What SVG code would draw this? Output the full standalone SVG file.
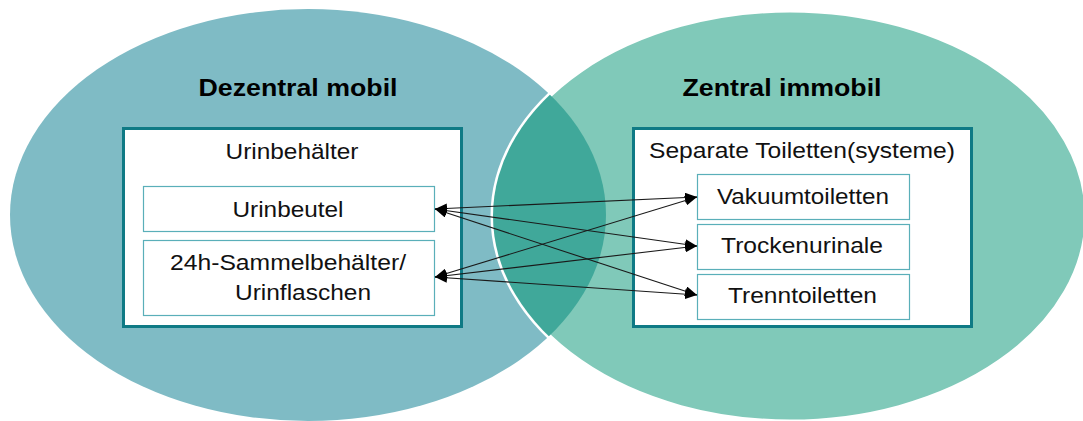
<svg xmlns="http://www.w3.org/2000/svg" width="1083" height="421" viewBox="0 0 1083 421">
<style>
.t{font-family:"Liberation Sans",Arial,sans-serif;font-size:22px;fill:#111;}
.h{font-family:"Liberation Sans",Arial,sans-serif;font-size:23px;font-weight:bold;fill:#000;}
.outer{fill:#fff;stroke:#0F7A85;stroke-width:3;}
.inner{fill:#fff;stroke:#5AAFB9;stroke-width:1.2;}
.con{stroke:#1a1a1a;stroke-width:1.1;fill:none;marker-start:url(#ah);marker-end:url(#ah);}
</style>
<defs>
<marker id="ah" viewBox="0 0 12 10" refX="12" refY="5" markerWidth="12" markerHeight="10" markerUnits="userSpaceOnUse" orient="auto-start-reverse">
<path d="M0,0 L12,5 L0,10 z" fill="#000"/>
</marker>
<clipPath id="rc"><ellipse cx="790" cy="216" rx="297" ry="206"/></clipPath>
</defs>
<rect width="1083" height="421" fill="#fff"/>
<g id="venn">
<ellipse cx="308" cy="215" rx="298" ry="206" fill="#7FBBC5"/>
<ellipse cx="790" cy="216" rx="297" ry="206" fill="#80C9B9" stroke="#fff" stroke-width="5"/>
<ellipse cx="308" cy="215" rx="298" ry="206" fill="#40A89A" clip-path="url(#rc)"/>
</g>
<g id="title-left"><text class="h" x="298" y="96" text-anchor="middle" textLength="199" lengthAdjust="spacingAndGlyphs">Dezentral mobil</text></g>
<g id="title-right"><text class="h" x="782" y="96" text-anchor="middle" textLength="199" lengthAdjust="spacingAndGlyphs">Zentral immobil</text></g>
<g id="box-left">
<rect class="outer" x="123.5" y="128.5" width="338" height="198"/>
<text class="t" x="292" y="159" text-anchor="middle" textLength="133" lengthAdjust="spacingAndGlyphs">Urinbehälter</text>
</g>
<g id="urinbeutel">
<rect class="inner" x="143.5" y="186.5" width="291" height="45"/>
<text class="t" x="288" y="217" text-anchor="middle" textLength="111" lengthAdjust="spacingAndGlyphs">Urinbeutel</text>
</g>
<g id="sammelbehaelter">
<rect class="inner" x="143.5" y="240.5" width="291" height="75"/>
<text class="t" x="288" y="270" text-anchor="middle" textLength="236" lengthAdjust="spacingAndGlyphs">24h-Sammelbehälter/</text>
<text class="t" x="303" y="300" text-anchor="middle" textLength="136" lengthAdjust="spacingAndGlyphs">Urinflaschen</text>
</g>
<g id="box-right">
<rect class="outer" x="633.5" y="128.5" width="338" height="198"/>
<text class="t" x="802" y="158" text-anchor="middle" textLength="306" lengthAdjust="spacingAndGlyphs">Separate Toiletten(systeme)</text>
</g>
<g id="vakuum">
<rect class="inner" x="697.5" y="174.5" width="212" height="45"/>
<text class="t" x="803" y="204" text-anchor="middle" textLength="172" lengthAdjust="spacingAndGlyphs">Vakuumtoiletten</text>
</g>
<g id="trocken">
<rect class="inner" x="697.5" y="224.5" width="212" height="45"/>
<text class="t" x="802" y="253" text-anchor="middle" textLength="162" lengthAdjust="spacingAndGlyphs">Trockenurinale</text>
</g>
<g id="trenn">
<rect class="inner" x="697.5" y="274.5" width="212" height="45"/>
<text class="t" x="802.5" y="303" text-anchor="middle" textLength="149" lengthAdjust="spacingAndGlyphs">Trenntoiletten</text>
</g>
<g id="connectors">
<line class="con" x1="435" y1="209" x2="697" y2="197"/>
<line class="con" x1="435" y1="209" x2="697" y2="246"/>
<line class="con" x1="435" y1="209" x2="697" y2="295"/>
<line class="con" x1="435" y1="277" x2="697" y2="197"/>
<line class="con" x1="435" y1="277" x2="697" y2="246"/>
<line class="con" x1="435" y1="277" x2="697" y2="295"/>
</g>
</svg>
